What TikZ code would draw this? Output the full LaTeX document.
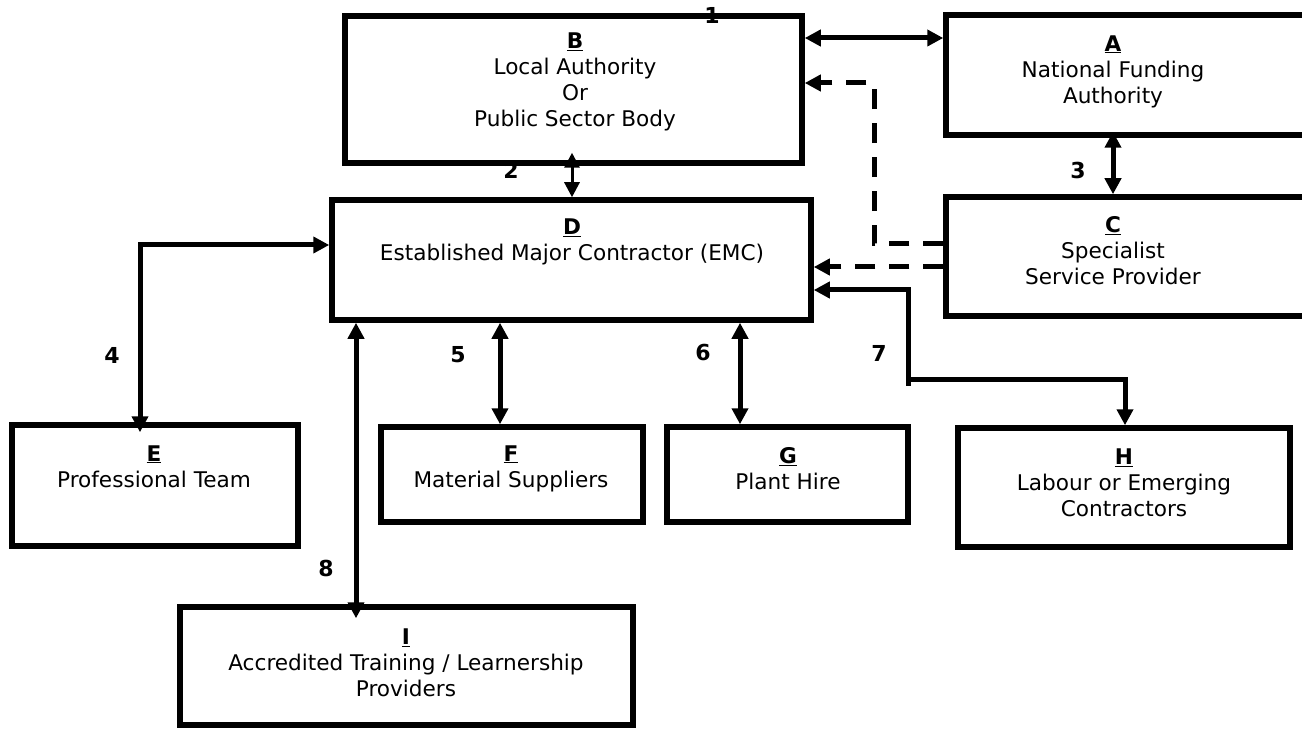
\documentclass[tikz,border=0pt]{standalone}
\usepackage{fontspec}
\setmainfont{DejaVu Sans}
\usetikzlibrary{arrows.meta}
\newcommand\ulb[1]{\underline{\textbf{#1}}}
\begin{document}
\begin{tikzpicture}[x=1pt,y=-1pt,
  box/.style={draw,line width=5.5pt,rectangle,inner sep=0pt,outer sep=2.75pt},
  txt/.style={align=center,font=\fontsize{21.6}{26}\selectfont,inner sep=0pt},
  num/.style={font=\fontsize{22}{26}\selectfont\bfseries,inner sep=0pt},
  conn/.style={line width=5pt,{Triangle[length=16pt,width=16pt]}-{Triangle[length=16pt,width=16pt]}},
  thinconn/.style={line width=3pt,{Triangle[length=15pt,width=15pt]}-{Triangle[length=15pt,width=15pt]}},
  stub/.style={line width=5pt},
  dashconn/.style={line width=5pt,dash pattern=on 20pt off 14pt,-{Triangle[length=16pt,width=16pt]}}]
\useasboundingbox (0,0) rectangle (1302,730);
\clip (0,0) rectangle (1302,730);
% boxes
\node[box,minimum width=457pt,minimum height=147pt] (B) at (573.5,89.5) {};
\node[box,minimum width=394pt,minimum height=120pt] (A) at (1143,75) {};
\node[box,minimum width=394pt,minimum height=119pt] (C) at (1143,256.5) {};
\node[box,minimum width=479pt,minimum height=120pt] (D) at (571.5,260) {};
\node[box,minimum width=286pt,minimum height=121pt] (E) at (155,485.5) {};
\node[box,minimum width=262pt,minimum height=95pt] (F) at (512,474.5) {};
\node[box,minimum width=241pt,minimum height=95pt] (G) at (787.5,474.5) {};
\node[box,minimum width=332pt,minimum height=119pt] (H) at (1124,487.5) {};
\node[box,minimum width=453pt,minimum height=118pt] (I) at (406.5,666) {};
% texts
\node[txt] (Bt) at (575,82) {\ulb{B}\\Local Authority\\Or\\Public Sector Body};
\node[txt] (At) at (1113,71.5) {\ulb{A}\\National Funding\\Authority};
\node[txt] (Dt) at (572,242) {\ulb{D}\\Established Major Contractor (EMC)};
\node[txt] (Ct) at (1113,251) {\ulb{C}\\Specialist\\Service Provider};
\node[txt] (Et) at (154,466.5) {\ulb{E}\\Professional Team};
\node[txt] (Ft) at (511,468.5) {\ulb{F}\\Material Suppliers};
\node[txt] (Gt) at (788,468.5) {\ulb{G}\\Plant Hire};
\node[txt] (Ht) at (1124,483) {\ulb{H}\\Labour or Emerging\\Contractors};
\node[txt] (It) at (406,663) {\ulb{I}\\Accredited Training / Learnership\\Providers};
% connectors
\draw[conn] (B.east |- 0,38) -- (A.west |- 0,38);
\draw[thinconn,shorten <=-13pt] (B.south -| 572,0) -- (D.north -| 572,0);
\draw[conn,shorten <=-6pt] (A.south -| 1113,0) -- (C.north -| 1113,0);
\draw[dashconn] (C.west |- 0,244) -- (874,244) -- (874,83) -- (B.east |- 0,83);
\draw[dashconn] (C.west |- 0,267) -- (D.east |- 0,267);
\draw[conn] (D.east |- 0,290) -- (908,290) -- (908,379) -- (1125,379) -- (H.north -| 1125,0);
\coordinate (s7) at (908,386);
\draw[stub] (908,376) -- (s7);
\draw[conn,shorten >=-10pt] (D.west |- 0,245) -- (140,245) -- (E.north -| 140,0);
\draw[conn] (D.south -| 500,0) -- (F.north -| 500,0);
\draw[conn] (D.south -| 740,0) -- (G.north -| 740,0);
\draw[conn,shorten >=-14pt] (D.south -| 356,0) -- (I.north -| 356,0);
% numbers
\node[num] (n1) at (712,15) {1};
\node[num] (n2) at (511,170) {2};
\node[num] (n3) at (1078,170) {3};
\node[num] (n4) at (112,355) {4};
\node[num] (n5) at (458,355) {5};
\node[num] (n6) at (703,353) {6};
\node[num] (n7) at (879,353) {7};
\node[num] (n8) at (326,568) {8};
\end{tikzpicture}
\end{document}
